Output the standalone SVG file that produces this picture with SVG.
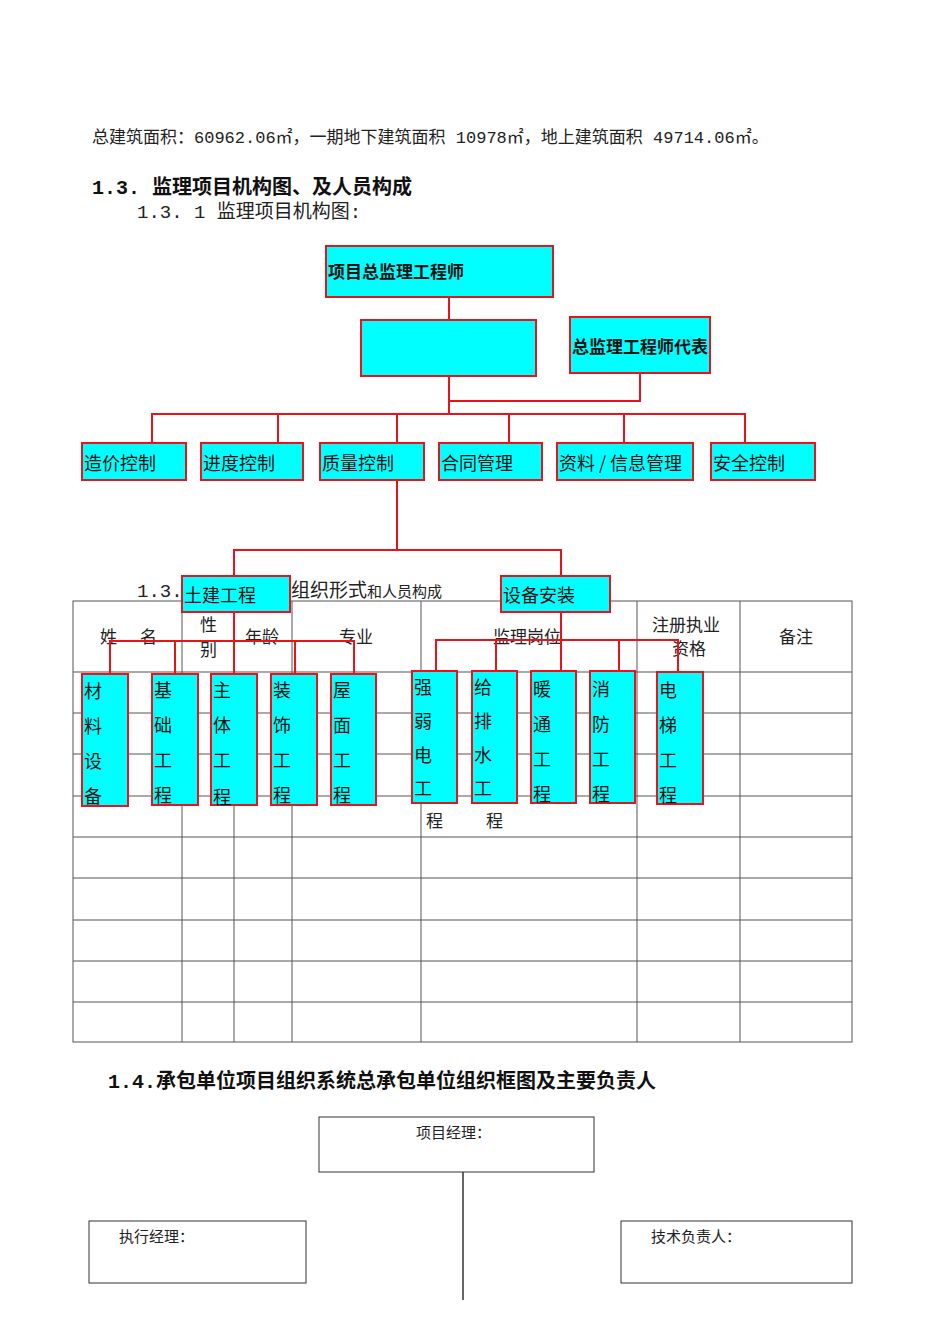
<svg xmlns="http://www.w3.org/2000/svg" width="950" height="1344" viewBox="0 0 950 1344">
<style>
.s{font-family:"Liberation Serif","Noto Sans CJK SC",serif;fill:#222}
.m{font-family:"Liberation Mono","Noto Sans CJK SC",monospace;fill:#222}
.h{font-family:"Liberation Mono","Noto Sans CJK SC",monospace;font-weight:bold;font-size:20px;fill:#111}
.b{fill:#00ffff;stroke:#e8141c;stroke-width:2}
.t{font-family:"Noto Sans CJK SC",sans-serif;font-size:18px;fill:#111}
.tb{font-family:"Noto Sans CJK SC",sans-serif;font-size:17px;font-weight:bold;fill:#111}
.c{stroke:#e8141c;stroke-width:2;fill:none}
.g{stroke:#555;stroke-width:1;fill:none}
.w{fill:#fff;stroke:#333;stroke-width:1}
</style>
<rect width="950" height="1344" fill="#fff"/>
<text class="m" x="92" y="143" font-size="17">总建筑面积：60962.06㎡，一期地下建筑面积 10978㎡，地上建筑面积 49714.06㎡。</text>
<text class="h" x="92" y="194">1.3. 监理项目机构图、及人员构成</text>
<text class="m" x="137" y="218" font-size="19">1.3. 1 监理项目机构图:</text>
<text class="m" x="137" y="597" font-size="19">1.3.</text>
<text class="s" x="291" y="597" font-size="19">组织形式<tspan font-size="15">和人员构成</tspan></text>
<g id="table" class="g">
<rect x="73" y="601" width="779" height="441"/>
<path d="M73 672H852M73 713H852M73 754H852M73 796H852M73 837H852M73 878H852M73 920H852M73 961H852M73 1002H852"/>
<path d="M182 601V1042M234 601V1042M292 601V1042M421 601V1042M637 601V1042M740 601V1042"/>
</g>
<g class="s" font-size="17">
<text x="100" y="643">姓</text><text x="140" y="643">名</text>
<text x="200" y="631">性</text><text x="200" y="656">别</text>
<text x="245" y="643">年龄</text>
<text x="339" y="643">专业</text>
<text x="493" y="643">监理岗位</text>
<text x="652" y="631">注册执业</text><text x="672" y="655">资格</text>
<text x="779" y="643">备注</text>
<text x="426" y="827">程</text><text x="486" y="827">程</text>
</g>
<g id="connectors" class="c">
<path d="M449 297V320M449 376V414M640 373V401H449M152 443V414H745V443M278 414V443M397 414V443M509 414V443M624 414V443"/>
<path d="M397 480V550M234 576V550H561V576"/>
<path d="M234 612V674M110 674V641H354V674M175 641V674M295 641V674"/>
<path d="M561 612V671M436 671V640H678V672M496 640V671M619 640V671"/>
</g>
<g id="n_chief"><rect class="b" x="326" y="246" width="227" height="51"/><text class="tb" x="328" y="278">项目总监理工程师</text></g>
<g id="n_blank"><rect class="b" x="361" y="320" width="175" height="56"/></g>
<g id="n_rep"><rect class="b" x="570" y="317" width="140" height="56"/><text class="tb" x="572" y="353" font-size="16">总监理工程师代表</text></g>
<g id="n_cost"><rect class="b" x="82" y="443" width="104" height="37"/><text class="t" x="84" y="470">造价控制</text></g>
<g id="n_prog"><rect class="b" x="201" y="443" width="102" height="37"/><text class="t" x="203" y="470">进度控制</text></g>
<g id="n_qual"><rect class="b" x="320" y="443" width="104" height="37"/><text class="t" x="322" y="470">质量控制</text></g>
<g id="n_cont"><rect class="b" x="439" y="443" width="103" height="37"/><text class="t" x="441" y="470">合同管理</text></g>
<g id="n_info"><rect class="b" x="557" y="443" width="136" height="37"/><text class="t" x="559" y="470">资料 / 信息管理</text></g>
<g id="n_safe"><rect class="b" x="711" y="443" width="104" height="37"/><text class="t" x="713" y="470">安全控制</text></g>
<g id="n_civil"><rect class="b" x="182" y="576" width="108" height="36"/><text class="t" x="184" y="602">土建工程</text></g>
<g id="n_equip"><rect class="b" x="501" y="576" width="109" height="36"/><text class="t" x="503" y="602">设备安装</text></g>
<g class="t">
<g id="n1"><rect class="b" x="82" y="674" width="46" height="132"/><text x="84" y="698">材</text><text x="84" y="733">料</text><text x="84" y="768">设</text><text x="84" y="803">备</text></g>
<g id="n2"><rect class="b" x="152" y="674" width="46" height="131"/><text x="154" y="697">基</text><text x="154" y="732">础</text><text x="154" y="767">工</text><text x="154" y="802">程</text></g>
<g id="n3"><rect class="b" x="211" y="674" width="46" height="131"/><text x="213" y="697">主</text><text x="213" y="732">体</text><text x="213" y="767">工</text><text x="213" y="804">程</text></g>
<g id="n4"><rect class="b" x="271" y="674" width="46" height="131"/><text x="273" y="697">装</text><text x="273" y="732">饰</text><text x="273" y="767">工</text><text x="273" y="802">程</text></g>
<g id="n5"><rect class="b" x="331" y="674" width="45" height="131"/><text x="333" y="697">屋</text><text x="333" y="732">面</text><text x="333" y="767">工</text><text x="333" y="802">程</text></g>
<g id="n6"><rect class="b" x="412" y="671" width="45" height="132"/><text x="414" y="694">强</text><text x="414" y="728">弱</text><text x="414" y="762">电</text><text x="414" y="795">工</text></g>
<g id="n7"><rect class="b" x="472" y="671" width="45" height="132"/><text x="474" y="694">给</text><text x="474" y="728">排</text><text x="474" y="762">水</text><text x="474" y="795">工</text></g>
<g id="n8"><rect class="b" x="531" y="671" width="45" height="132"/><text x="533" y="696">暖</text><text x="533" y="731">通</text><text x="533" y="766">工</text><text x="533" y="801">程</text></g>
<g id="n9"><rect class="b" x="590" y="671" width="45" height="132"/><text x="592" y="696">消</text><text x="592" y="731">防</text><text x="592" y="766">工</text><text x="592" y="801">程</text></g>
<g id="n10"><rect class="b" x="657" y="672" width="46" height="132"/><text x="659" y="697">电</text><text x="659" y="732">梯</text><text x="659" y="767">工</text><text x="659" y="802">程</text></g>
</g>
<text class="h" x="108" y="1088">1.4.承包单位项目组织系统总承包单位组织框图及主要负责人</text>
<path d="M463 1172V1300" stroke="#333" stroke-width="1.5"/>
<g id="pm"><rect class="w" x="319" y="1117" width="275" height="55"/><text class="s" x="416" y="1138" font-size="15">项目经理：</text></g>
<g id="em"><rect class="w" x="89" y="1221" width="217" height="62"/><text class="s" x="119" y="1242" font-size="15">执行经理：</text></g>
<g id="tm"><rect class="w" x="621" y="1221" width="231" height="62"/><text class="s" x="651" y="1242" font-size="15">技术负责人：</text></g>
</svg>
